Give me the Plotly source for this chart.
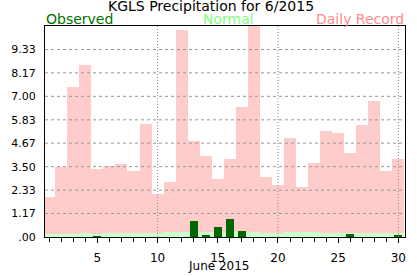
import plotly.graph_objects as go

days = list(range(1, 31))
record = [2.00, 3.50, 7.44, 8.58, 3.39, 3.51, 3.62, 3.30, 5.64, 2.16,
          2.72, 10.30, 4.78, 4.02, 2.91, 3.86, 6.45, 10.80, 3.00, 2.59,
          4.94, 2.50, 3.67, 5.29, 5.17, 4.18, 5.58, 6.77, 3.30, 3.86]
normal = [0.13, 0.13, 0.14, 0.19, 0.15, 0.19, 0.19, 0.19, 0.19, 0.19,
          0.24, 0.24, 0.24, 0.24, 0.24, 0.24, 0.24, 0.24, 0.19, 0.19,
          0.24, 0.24, 0.24, 0.19, 0.19, 0.19, 0.19, 0.19, 0.19, 0.19]
observed = [0, 0, 0, 0, 0.03, 0, 0, 0, 0, 0,
            0, 0, 0.81, 0.10, 0.52, 0.90, 0.30, 0, 0, 0,
            0, 0, 0, 0, 0, 0.14, 0, 0, 0, 0.12]

y_ticks = [0, 1.17, 2.33, 3.50, 4.67, 5.83, 7.00, 8.17, 9.33]
y_tick_labels = [".00", "1.17", "2.33", "3.50", "4.67", "5.83", "7.00", "8.17", "9.33"]
x_ticks = [5, 10, 15, 20, 25, 30]
x_grid = [10, 20, 30]
y_max = 10.5
x_title = "June 2015"

FONT = "DejaVu Sans"

fig = go.Figure()
fig.add_trace(go.Bar(x=days, y=record, width=1.0, marker=dict(color="#FFCCCC", line=dict(width=0)), name="Daily Record"))
fig.add_trace(go.Bar(x=days, y=normal, width=1.0, marker=dict(color="#CCFFCC", line=dict(width=0)), name="Normal"))
fig.add_trace(go.Bar(x=days, y=observed, width=0.67, marker=dict(color="#006600", line=dict(width=0)), name="Observed"))

shapes = []
for v in y_ticks[1:]:
    shapes.append(dict(type="line", xref="paper", yref="y", x0=0, x1=1, y0=v, y1=v,
                       line=dict(color="#999999", width=1, dash="3px,3px"), layer="above"))
for v in x_grid:
    shapes.append(dict(type="line", xref="x", yref="paper", x0=v, x1=v, y0=0, y1=1,
                       line=dict(color="#888888", width=1, dash="1px,2px"), layer="above"))

annotations = [
    dict(text="KGLS Precipitation for 6/2015", xref="paper", yref="paper", x=0.46, y=1.0,
         yshift=11, xanchor="center", yanchor="bottom", showarrow=False, borderpad=0,
         font=dict(family=FONT, size=14, color="#000000")),
    dict(text="Observed", xref="paper", yref="paper", x=0, y=1.0, yshift=-2,
         xanchor="left", yanchor="bottom", showarrow=False, borderpad=0,
         font=dict(family=FONT, size=14, color="#007000")),
    dict(text="Normal", xref="paper", yref="paper", x=0.51, y=1.0, yshift=-2,
         xanchor="center", yanchor="bottom", showarrow=False, borderpad=0,
         font=dict(family=FONT, size=14, color="#80FF80")),
    dict(text="Daily Record", xref="paper", yref="paper", x=1.0, y=1.0, yshift=-2,
         xanchor="right", yanchor="bottom", showarrow=False, borderpad=0,
         font=dict(family=FONT, size=14, color="#FF8C8C")),
    dict(text=x_title, xref="x", yref="paper", x=15.1, y=0, yshift=-21,
         xanchor="center", yanchor="top", showarrow=False, borderpad=0,
         font=dict(family=FONT, size=12, color="#000000")),
]

fig.update_layout(
    width=417, height=276,
    margin=dict(l=36, r=11, t=26, b=30, pad=0),
    paper_bgcolor="white", plot_bgcolor="white",
    barmode="overlay", bargap=0, showlegend=False,
    shapes=shapes, annotations=annotations,
    font=dict(family=FONT, size=11, color="#000000"),
    xaxis=dict(range=[0.65, 30.55], tickmode="array", tickvals=x_ticks,
               ticks="outside", ticklen=5, tickcolor="black", showgrid=False, zeroline=False,
               showline=True, linecolor="black", linewidth=1, mirror=True,
               minor=dict(dtick=1, tick0=0, ticks="outside", ticklen=4, tickcolor="black", showgrid=False),
               tickfont=dict(family=FONT, size=12), ticklabelstandoff=5),
    yaxis=dict(range=[0, y_max], tickmode="array", tickvals=y_ticks, ticktext=y_tick_labels,
               ticks="", showgrid=False, zeroline=False,
               showline=True, linecolor="black", linewidth=1, mirror=True,
               tickfont=dict(family=FONT, size=11), ticklabelstandoff=6),
)

fig.write_html("out.html")
